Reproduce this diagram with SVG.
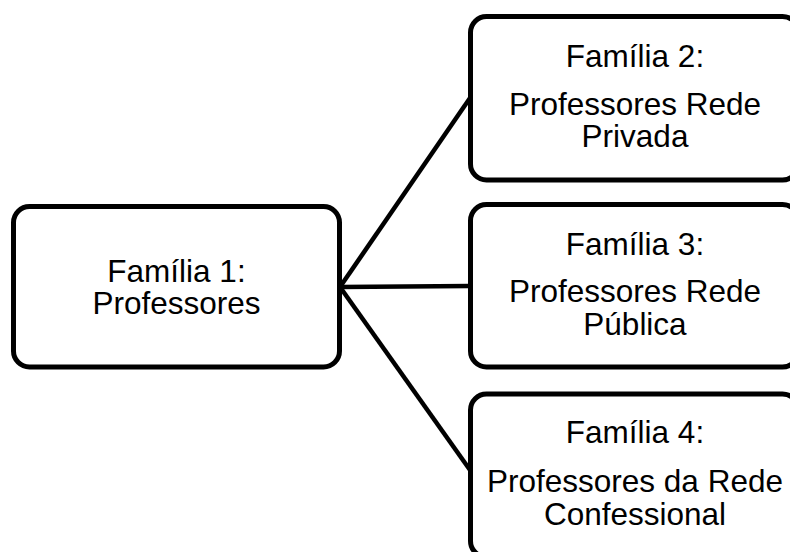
<svg xmlns="http://www.w3.org/2000/svg" width="790" height="552" viewBox="0 0 790 552">
<style>
.box{fill:#fff;stroke:#000;stroke-width:5}
.conn{stroke:#000;stroke-width:4.5;fill:none}
text{font-family:"Liberation Sans",Arial,sans-serif;font-size:31.5px;fill:#000;text-anchor:middle}
</style>
<rect width="790" height="552" fill="#fff"/>
<g id="connectors">
<line class="conn" x1="340" y1="287" x2="470" y2="98"/>
<line class="conn" x1="340" y1="287" x2="470" y2="286"/>
<line class="conn" x1="340" y1="287" x2="470" y2="470"/>
</g>
<g id="node1">
<rect class="box" x="13.5" y="206.5" width="326" height="160.5" rx="16"/>
<text x="176.5" y="282">Família 1:</text>
<text x="176.5" y="313.5">Professores</text>
</g>
<g id="node2">
<rect class="box" x="470.5" y="16.5" width="328" height="163.5" rx="16"/>
<text x="635" y="67">Família 2:</text>
<text x="635" y="115">Professores Rede</text>
<text x="635" y="147">Privada</text>
</g>
<g id="node3">
<rect class="box" x="470.5" y="204.5" width="328" height="162.5" rx="16"/>
<text x="635" y="255">Família 3:</text>
<text x="635" y="302">Professores Rede</text>
<text x="635" y="335">Pública</text>
</g>
<g id="node4">
<rect class="box" x="470.5" y="394" width="328" height="163" rx="16"/>
<text x="635" y="443">Família 4:</text>
<text x="635" y="492">Professores da Rede</text>
<text x="635" y="525">Confessional</text>
</g>
</svg>
